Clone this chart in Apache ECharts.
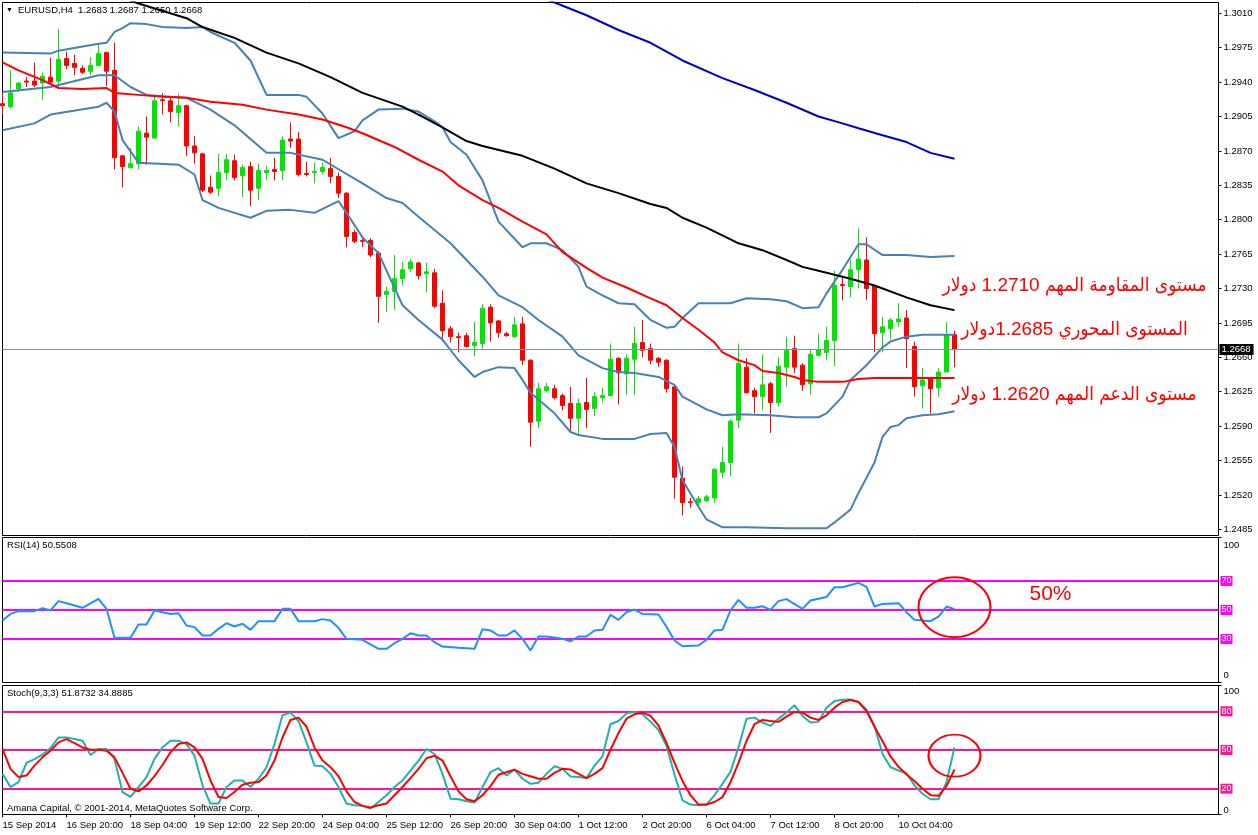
<!DOCTYPE html>
<html><head><meta charset="utf-8">
<script src="https://cdn.jsdelivr.net/npm/echarts@6/dist/echarts.min.js"></script>
<style>html,body{margin:0;padding:0;background:#fff}#c{width:1258px;height:835px}</style>
</head><body><div id="c"></div><script>
// ---------------- data ----------------
const symbolName = 'EURUSD,H4';
const timeLabels = ['15 Sep 2014','16 Sep 20:00','18 Sep 04:00','19 Sep 12:00','22 Sep 20:00','24 Sep 04:00','25 Sep 12:00','26 Sep 20:00','30 Sep 04:00','1 Oct 12:00','2 Oct 20:00','6 Oct 04:00','7 Oct 12:00','8 Oct 20:00','10 Oct 04:00'];
const priceTicks = [1.2485,1.2520,1.2555,1.2590,1.2625,1.2660,1.2695,1.2730,1.2765,1.2800,1.2835,1.2870,1.2905,1.2940,1.2975,1.3010];
const rsiLevels = [70,50,30];
const stochLevels = [80,50,20];

const openP = [1.2918,1.2915,1.2933,1.2941,1.2941,1.2939,1.2945,1.2941,1.2964,1.2959,
1.2954,1.2951,1.2957,1.2970,1.2952,1.2865,1.2853,1.2857,1.2888,1.2883,
1.2922,1.2921,1.2909,1.2916,1.2875,1.2867,1.2833,1.2832,1.2848,1.2860,
1.2845,1.2854,1.2832,1.2848,1.2851,1.2850,1.2882,1.2882,1.2847,1.2848,
1.2849,1.2852,1.2844,1.2827,1.2787,1.2779,1.2779,1.2766,1.2724,1.2727,
1.2740,1.2750,1.2756,1.2745,1.2746,1.2715,1.2689,1.2681,1.2682,1.2672,
1.2674,1.2711,1.2697,1.2684,1.2681,1.2694,1.2657,1.2595,1.2626,1.2628,
1.2621,1.2613,1.2598,1.2614,1.2608,1.2619,1.2621,1.2659,1.2643,1.2658,
1.2675,1.2669,1.2659,1.2657,1.2630,1.2537,1.2513,1.2512,1.2514,1.2517,
1.2543,1.2553,1.2596,1.2650,1.2626,1.2620,1.2633,1.2614,1.2650,1.2669,
1.2652,1.2633,1.2662,1.2665,1.2677,1.2734,1.2732,1.2749,1.2759,1.2733,
1.2685,1.2689,1.2696,1.2700,1.2671,1.2631,1.2639,1.2629,1.2645,1.2683];
const highP = [1.2929,1.2952,1.2940,1.2945,1.2960,1.2950,1.2965,1.2994,1.2971,1.2968,
1.2957,1.2965,1.2979,1.2971,1.2980,1.2866,1.2873,1.2895,1.2905,1.2925,
1.2929,1.2925,1.2928,1.2917,1.2885,1.2868,1.2845,1.2867,1.2867,1.2866,
1.2856,1.2859,1.2857,1.2855,1.2863,1.2885,1.2899,1.2889,1.2859,1.2858,
1.2858,1.2863,1.2848,1.2828,1.2790,1.2781,1.2781,1.2768,1.2732,1.2764,
1.2757,1.2760,1.2757,1.2756,1.2750,1.2728,1.2692,1.2685,1.2685,1.2696,
1.2714,1.2714,1.2698,1.2686,1.2701,1.2701,1.2658,1.2634,1.2634,1.2632,
1.2623,1.2630,1.2618,1.2639,1.2625,1.2629,1.2674,1.2660,1.2663,1.2691,
1.2698,1.2674,1.2660,1.2658,1.2631,1.2549,1.2517,1.2519,1.2520,1.2547,
1.2569,1.2597,1.2674,1.2659,1.2629,1.2663,1.2635,1.2660,1.2681,1.2682,
1.2654,1.2668,1.2684,1.2691,1.2748,1.2742,1.2759,1.2791,1.2782,1.2734,
1.2701,1.2700,1.2715,1.2708,1.2676,1.2649,1.2640,1.2649,1.2696,1.2687];
const lowP = [1.2907,1.2913,1.2930,1.2935,1.2935,1.2922,1.2939,1.2933,1.2953,1.2947,
1.2948,1.2947,1.2956,1.2936,1.2851,1.2833,1.2852,1.2851,1.2856,1.2883,
1.2907,1.2899,1.2895,1.2865,1.2857,1.2828,1.2826,1.2824,1.2840,1.2840,
1.2823,1.2814,1.2820,1.2840,1.2840,1.2840,1.2873,1.2844,1.2844,1.2837,
1.2846,1.2837,1.2822,1.2772,1.2776,1.2772,1.2762,1.2695,1.2706,1.2708,
1.2733,1.2747,1.2739,1.2726,1.2710,1.2676,1.2675,1.2665,1.2670,1.2661,
1.2668,1.2676,1.2680,1.2681,1.2680,1.2652,1.2569,1.2588,1.2624,1.2617,
1.2606,1.2584,1.2581,1.2588,1.2600,1.2614,1.2620,1.2612,1.2622,1.2622,
1.2660,1.2653,1.2650,1.2624,1.2516,1.2499,1.2507,1.2508,1.2513,1.2512,
1.2537,1.2539,1.2588,1.2623,1.2603,1.2606,1.2583,1.2610,1.2630,1.2644,
1.2626,1.2622,1.2661,1.2657,1.2651,1.2718,1.2721,1.2730,1.2718,1.2665,
1.2665,1.2678,1.2691,1.2649,1.2620,1.2608,1.2603,1.2620,1.2645,1.2650];
const closeP = [1.2916,1.2929,1.2939,1.2940,1.2937,1.2946,1.2940,1.2963,1.2957,1.2955,
1.2950,1.2957,1.2969,1.2951,1.2863,1.2854,1.2857,1.2890,1.2884,1.2921,
1.2921,1.2910,1.2916,1.2875,1.2868,1.2830,1.2828,1.2848,1.2861,1.2843,
1.2853,1.2830,1.2850,1.2850,1.2849,1.2881,1.2880,1.2846,1.2846,1.2849,
1.2853,1.2844,1.2827,1.2783,1.2778,1.2778,1.2764,1.2722,1.2727,1.2740,
1.2749,1.2757,1.2743,1.2747,1.2712,1.2687,1.2681,1.2680,1.2671,1.2675,
1.2710,1.2695,1.2685,1.2682,1.2693,1.2657,1.2594,1.2628,1.2630,1.2619,
1.2611,1.2598,1.2613,1.2607,1.2620,1.2621,1.2658,1.2644,1.2659,1.2674,
1.2667,1.2657,1.2655,1.2628,1.2538,1.2512,1.2512,1.2516,1.2518,1.2546,
1.2553,1.2595,1.2654,1.2624,1.2620,1.2632,1.2614,1.2651,1.2667,1.2650,
1.2632,1.2663,1.2668,1.2677,1.2733,1.2733,1.2749,1.2760,1.2730,1.2684,
1.2691,1.2698,1.2699,1.2679,1.2630,1.2637,1.2628,1.2645,1.2683,1.2668];

// indicator lines: [bar index, value]
const bbUpper = [[0,1.2970],[6,1.2969],[7,1.2972],[12,1.2979],[13,1.2980],[14,1.2991],[15,1.2995],[16,1.3000],[18,1.2999],[20,1.2996],[23,1.2995],[25,1.2996],[26,1.2991],[29,1.2980],[31,1.2962],[33,1.2927],[37,1.2927],[38,1.2925],[40,1.2908],[42,1.2883],[44,1.2890],[45,1.2901],[47,1.2912],[50,1.2913],[52,1.2910],[54,1.2900],[55,1.2894],[56,1.2879],[58,1.2866],[60,1.2840],[62,1.2798],[65,1.2772],[66,1.2776],[68,1.2776],[70,1.2769],[72,1.2752],[73,1.2732],[75,1.2723],[77,1.2715],[79,1.2714],[81,1.2698],[83,1.2690],[84,1.2691],[85,1.2700],[87,1.2715],[91,1.2715],[93,1.2720],[96,1.2719],[98,1.2717],[100,1.2710],[102,1.2711],[103,1.2725],[105,1.2749],[106,1.2762],[107,1.2775],[108,1.2775],[110,1.2764],[113,1.2764],[116,1.2762],[119,1.2763]];
const bbMiddle = [[0,1.2930],[6,1.2935],[12,1.2947],[14,1.2947],[16,1.2935],[18,1.2927],[21,1.2925],[23,1.2924],[26,1.2912],[29,1.2896],[33,1.2868],[36,1.2868],[40,1.2861],[45,1.2837],[48,1.2822],[50,1.2817],[52,1.2803],[56,1.2776],[60,1.2742],[62,1.2723],[65,1.2711],[67,1.2698],[70,1.2681],[72,1.2662],[75,1.2649],[77,1.2645],[79,1.2644],[82,1.2640],[84,1.2632],[85,1.2620],[88,1.2607],[90,1.2601],[92,1.2602],[96,1.2601],[99,1.2599],[102,1.2599],[103,1.2603],[105,1.2620],[106,1.2637],[108,1.2652],[110,1.2670],[111,1.2676],[113,1.2681],[115,1.2683],[119,1.2683]];
const bbLower = [[0,1.2891],[4,1.2898],[6,1.2907],[12,1.2915],[13,1.2919],[14,1.2910],[15,1.2881],[17,1.2858],[22,1.2856],[24,1.2846],[25,1.2820],[26,1.2816],[27,1.2812],[31,1.2802],[33,1.2809],[36,1.2810],[39,1.2807],[42,1.2819],[43,1.2807],[45,1.2782],[47,1.2766],[50,1.2713],[52,1.2698],[55,1.2678],[57,1.2657],[59,1.2640],[60,1.2645],[62,1.2650],[64,1.2649],[65,1.2637],[66,1.2624],[69,1.2603],[71,1.2584],[72,1.2581],[75,1.2577],[79,1.2577],[81,1.2582],[83,1.2583],[84,1.2569],[85,1.2535],[87,1.2508],[88,1.2495],[90,1.2487],[93,1.2487],[98,1.2486],[103,1.2486],[104,1.2492],[106,1.2505],[107,1.2522],[109,1.2553],[110,1.2579],[111,1.2589],[112,1.2591],[113,1.2598],[115,1.2601],[117,1.2602],[119,1.2605]];
const maRed = [[0,1.2960],[2,1.2952],[5,1.2942],[7,1.2934],[10,1.2933],[13,1.2934],[14,1.2929],[17,1.2927],[20,1.2925],[23,1.2924],[26,1.2920],[30,1.2917],[33,1.2912],[37,1.2907],[40,1.2902],[43,1.2894],[45,1.2888],[49,1.2874],[52,1.2861],[55,1.2849],[57,1.2835],[60,1.2820],[62,1.2812],[65,1.2798],[68,1.2785],[70,1.2767],[73,1.2751],[75,1.2741],[78,1.2731],[81,1.2720],[83,1.2713],[85,1.2700],[87,1.2688],[89,1.2675],[90,1.2665],[92,1.2657],[94,1.2652],[95,1.2646],[97,1.2644],[99,1.2640],[100,1.2637],[102,1.2635],[105,1.2635],[107,1.2638],[109,1.2639],[113,1.2639],[119,1.2639]];
const maBlack = [[14,1.3029],[17,1.3020],[23,1.3005],[25,1.2996],[29,1.2985],[33,1.2970],[37,1.2959],[41,1.2945],[45,1.2929],[50,1.2915],[52,1.2907],[55,1.2894],[58,1.2880],[60,1.2875],[65,1.2865],[69,1.2852],[73,1.2837],[77,1.2827],[81,1.2816],[83,1.2812],[85,1.2802],[88,1.2792],[91,1.2780],[92,1.2776],[95,1.2769],[98,1.2759],[100,1.2752],[102,1.2748],[105,1.2742],[106,1.2740],[109,1.2733],[113,1.2721],[116,1.2713],[119,1.2708]];
const maBlue = [[67,1.3027],[69,1.3021],[73,1.3008],[77,1.2993],[81,1.2980],[85,1.2962],[90,1.2944],[94,1.2932],[98,1.2919],[102,1.2905],[105,1.2898],[107,1.2893],[110,1.2886],[113,1.2879],[116,1.2868],[119,1.2862]];

const rsi = [[0,42.8],[1,47.3],[2,49.2],[4,49.2],[5,51.3],[6,49.7],[7,56.1],[8,54.7],[10,51.5],[12,57.7],[13,50.8],[14,30.8],[16,30.8],[17,40.0],[18,40.0],[19,49.7],[21,47.3],[22,47.8],[23,39.3],[24,38.2],[25,32.4],[26,32.4],[27,37.0],[28,40.9],[29,38.6],[30,40.5],[31,36.3],[32,42.3],[34,42.3],[35,50.8],[36,50.8],[37,42.3],[39,42.3],[40,43.7],[41,42.8],[42,37.7],[43,30.1],[45,29.4],[47,23.2],[48,23.2],[49,27.1],[50,30.1],[51,34.0],[52,32.4],[53,32.4],[54,27.8],[55,24.8],[57,23.9],[59,23.2],[60,36.8],[61,35.9],[62,32.4],[63,32.4],[64,35.9],[65,30.1],[66,22.1],[67,31.7],[68,31.7],[70,30.1],[71,28.5],[72,31.7],[73,31.7],[74,35.9],[75,36.3],[76,46.7],[77,43.2],[78,48.5],[79,50.3],[80,47.3],[82,46.9],[83,38.5],[84,29.0],[85,25.0],[87,25.5],[88,29.5],[89,35.9],[90,36.3],[91,49.7],[92,57.0],[93,51.5],[94,51.5],[95,52.6],[96,50.1],[97,56.1],[98,57.5],[100,50.8],[101,56.6],[103,58.9],[104,65.7],[105,65.7],[107,68.7],[108,66.0],[109,52.4],[110,54.2],[112,54.7],[113,48.5],[114,43.2],[116,42.3],[117,45.5],[118,52.4],[119,50.5508]];

const stochK = [31.5,21.3,25.1,40.0,43.0,46.5,51.5,59.7,59.7,58.5,
57.2,46.1,50.8,50.8,43.1,17.4,13.6,21.3,29.0,43.1,
52.0,57.2,57.2,54.6,45.6,22.6,8.5,8.5,21.3,26.4,
26.4,21.3,27.7,36.6,54.6,76.9,79.0,72.5,55.9,37.9,
37.4,31.5,21.3,8.5,7.2,6.7,4.6,9.7,14.9,21.3,
26.4,34.1,41.8,50.8,46.9,31.5,12.3,11.8,10.2,9.2,
21.3,32.8,35.9,30.2,34.8,27.7,23.8,24.6,31.5,37.4,
35.4,29.5,29.0,28.2,37.9,45.1,70.0,72.5,78.4,79.5,
77.7,72.0,65.5,53.3,31.0,11.0,7.7,7.2,7.7,14.9,
23.8,33.0,52.0,74.3,75.1,71.3,68.7,74.3,79.0,84.6,
76.4,71.3,71.8,82.8,87.9,89.0,89.2,87.2,81.5,68.7,
46.9,36.6,34.1,32.0,22.6,16.1,11.8,11.8,25.1,51.8732];
const stochD = [50.8,35.4,29.0,30.2,37.9,44.3,49.5,55.9,58.4,55.4,
52.0,50.2,50.2,49.5,44.3,32.3,20.0,17.9,22.5,29.7,
38.4,48.2,54.6,55.9,52.0,43.1,26.4,13.6,12.8,17.4,
23.1,24.6,25.1,30.2,41.8,59.7,73.3,75.1,68.2,52.0,
41.8,36.7,29.7,17.9,9.7,6.7,5.4,7.2,8.5,14.9,
21.3,28.2,35.4,43.6,45.6,41.8,29.7,17.9,11.8,10.2,
14.9,22.0,30.8,32.8,34.8,31.5,29.7,27.7,27.7,32.3,
35.4,34.9,31.5,28.2,31.5,35.9,50.2,63.1,74.3,77.7,
79.0,76.5,69.0,55.5,40.0,26.0,15.0,7.7,7.7,9.7,
13.5,25.0,40.0,57.0,70.0,73.3,72.5,71.8,75.9,79.5,
79.0,75.1,73.3,76.9,82.8,87.2,88.7,87.2,80.2,68.0,
57.0,45.0,37.0,31.0,26.0,20.0,15.0,14.5,22.0,34.8885];

// ---------------- categories (H4 bars, weekends skipped) ----------------
const cats = [];
(function () {
  let t = Date.UTC(2014, 8, 15, 12);
  while (cats.length < 153) {
    const d = new Date(t);
    const wd = d.getUTCDay();
    if (wd !== 0 && wd !== 6) cats.push(d.toISOString().slice(0, 16).replace('T', ' '));
    t += 4 * 3600 * 1000;
  }
})();

const N = openP.length;
const candleData = openP.map((o, i) => [o, closeP[i], lowP[i], highP[i]]);
const F = '"Liberation Sans", Arial, sans-serif';
const AF = 'Arial, "DejaVu Sans Condensed", "DejaVu Sans", sans-serif';
const tickFn = (i) => i % 8 === 0 && i < N;

const chart = echarts.init(document.getElementById('c'), null, { renderer: 'canvas', devicePixelRatio: 1 });

const gridBase = { left: 2.5, width: 1216, show: true, borderColor: '#000', borderWidth: 1, backgroundColor: '#fff', outerBoundsMode: 'none', containLabel: false };

function xAx(g) {
  return {
    type: 'category', gridIndex: g, data: cats, boundaryGap: false,
    axisLine: { show: false }, splitLine: { show: false },
    axisTick: g === 2 ? { show: true, interval: tickFn, length: 3, lineStyle: { color: '#000', width: 1 } } : { show: false },
    axisLabel: g === 2 ? { show: true, interval: tickFn, formatter: (v, i) => timeLabels[i / 8] || '', align: 'left', margin: 6, color: '#000', fontSize: 9.5, fontFamily: F } : { show: false }
  };
}
function oscY(g, padTop, padBot) {
  return {
    type: 'value', gridIndex: g, position: 'right', min: 0, max: 100,
    splitLine: { show: false }, axisLine: { show: false },
    axisTick: { show: true, customValues: [0, 100], length: 3, lineStyle: { color: '#000' } },
    axisLabel: {
      customValues: [0, 100], margin: 5, color: '#000', fontSize: 9.5, fontFamily: F,
      formatter: (v) => (v === 100 ? '{t|100}' : '{b|0}'),
      rich: { t: { padding: [padTop, 0, 0, 0], fontSize: 9.5, fontFamily: F, color: '#000' }, b: { padding: [0, 0, padBot, 0], fontSize: 9.5, fontFamily: F, color: '#000' } }
    }
  };
}
function levelLabel(bg) {
  return { show: true, position: 'end', distance: 2, formatter: (p) => String(p.value), color: '#fff', backgroundColor: bg, fontSize: 9, fontFamily: F, padding: [1, 1, 0, 1], lineHeight: 9 };
}
function mainLine(data, color) {
  return { type: 'line', xAxisIndex: 0, yAxisIndex: 0, data, showSymbol: false, symbol: 'none', silent: true, clip: true, z: 3,
    lineStyle: { color, width: 2 }, itemStyle: { color } };
}

const last = N - 1;
const option = {
  animation: false,
  backgroundColor: '#fff',
  title: [
    { text: '{t|▼}' + symbolName + '  ' + [openP[last], highP[last], lowP[last], closeP[last]].map(v => v.toFixed(4)).join(' '),
      left: 6, top: 5, padding: 0,
      textStyle: { fontSize: 9.5, fontWeight: 'normal', color: '#000', fontFamily: F, rich: { t: { fontSize: 7, padding: [0, 5, 0, 0], color: '#000' } } } },
    { text: 'RSI(14) ' + rsi[rsi.length - 1][1].toFixed(4), left: 7, top: 540.5, padding: 0, textStyle: { fontSize: 9.5, fontWeight: 'normal', color: '#000', fontFamily: F } },
    { text: 'Stoch(9,3,3) ' + stochK[last].toFixed(4) + ' ' + stochD[last].toFixed(4), left: 7, top: 688.5, padding: 0, textStyle: { fontSize: 9.5, fontWeight: 'normal', color: '#000', fontFamily: F } },
    { text: 'Amana Capital, © 2001-2014, MetaQuotes Software Corp.', left: 7, top: 803.5, padding: 0, textStyle: { fontSize: 9.5, fontWeight: 'normal', color: '#000', fontFamily: F } }
  ],
  grid: [
    Object.assign({}, gridBase, { top: 2.5, height: 533 }),
    Object.assign({}, gridBase, { top: 537.5, height: 145 }),
    Object.assign({}, gridBase, { top: 685.5, height: 129 })
  ],
  xAxis: [xAx(0), xAx(1), xAx(2)],
  yAxis: [
    { type: 'value', gridIndex: 0, position: 'right', min: 1.247869, max: 1.302099,
      splitLine: { show: false }, axisLine: { show: false },
      axisTick: { show: true, customValues: priceTicks, length: 3, lineStyle: { color: '#000' } },
      axisLabel: { customValues: priceTicks, formatter: (v) => v.toFixed(4), margin: 5, color: '#000', fontSize: 9.5, fontFamily: F } },
    oscY(1, 15, 14),
    oscY(2, 12, 9)
  ],
  series: [
    { type: 'candlestick', xAxisIndex: 0, yAxisIndex: 0, data: candleData, barWidth: 4, silent: true, z: 2,
      itemStyle: { color: '#00e600', color0: '#ff0000', borderColor: '#00e600', borderColor0: '#ff0000', borderWidth: 1 },
      markLine: { silent: true, symbol: 'none', animation: false, precision: 4,
        lineStyle: { color: '#7d94ad', width: 1, type: 'solid' },
        label: { show: true, position: 'end', distance: 1, formatter: (p) => Number(p.value).toFixed(4), color: '#fff', backgroundColor: '#000', padding: [1, 3, 0, 2], fontSize: 9.5, fontFamily: F },
        data: [{ yAxis: closeP[last] }] } },
    mainLine(bbUpper, '#4682b4'),
    mainLine(bbMiddle, '#4682b4'),
    mainLine(bbLower, '#4682b4'),
    Object.assign(mainLine(maRed, '#ff0000'), {
      markPoint: { silent: true, animation: false, symbol: 'circle', symbolSize: 0,
        label: { show: true, position: 'inside', color: '#ff0000', fontSize: 19, fontFamily: AF, textBorderWidth: 0, formatter: (p) => p.name },
        itemStyle: { color: 'rgba(0,0,0,0)' },
        data: [
          { name: 'مستوى المقاومة المهم 1.2710 دولار', coord: [134, 1.2733] },
          { name: 'المستوى المحوري 1.2685دولار', coord: [134, 1.2688] },
          { name: 'مستوى الدعم المهم 1.2620 دولار', coord: [134, 1.2622] }
        ] } }),
    mainLine(maBlack, '#000000'),
    mainLine(maBlue, '#0000cd'),
    { type: 'line', xAxisIndex: 1, yAxisIndex: 1, data: rsi, showSymbol: false, symbol: 'none', silent: true, z: 3,
      lineStyle: { color: '#1e90ff', width: 2 }, itemStyle: { color: '#1e90ff' },
      markLine: { silent: true, symbol: 'none', animation: false, z: 2, precision: 0,
        lineStyle: { color: '#ff00ff', width: 2, type: 'solid' }, label: levelLabel('#ff00ff'),
        data: rsiLevels.map(v => ({ yAxis: v })) },
      markPoint: { silent: true, animation: false,
        data: [
          { coord: [118.65, 51.9], symbol: 'circle', symbolSize: [72, 60], itemStyle: { color: 'rgba(0,0,0,0)', borderColor: '#ff0000', borderWidth: 2 }, label: { show: false } },
          { coord: [131.25, 60.9], name: '50%', symbol: 'circle', symbolSize: 0, itemStyle: { color: 'rgba(0,0,0,0)' },
            label: { show: true, position: 'inside', formatter: '50%', color: '#ff0000', fontSize: 21, fontFamily: AF, textBorderWidth: 0 } }
        ] } },
    { type: 'line', xAxisIndex: 2, yAxisIndex: 2, data: stochK, showSymbol: false, symbol: 'none', silent: true, z: 3,
      lineStyle: { color: '#20b2aa', width: 2 }, itemStyle: { color: '#20b2aa' },
      markLine: { silent: true, symbol: 'none', animation: false, z: 2, precision: 0,
        lineStyle: { color: '#ff1493', width: 2, type: 'solid' }, label: levelLabel('#ff1493'),
        data: stochLevels.map(v => ({ yAxis: v })) },
      markPoint: { silent: true, animation: false,
        data: [
          { coord: [119.2, 45.6], symbol: 'circle', symbolSize: [52, 42], itemStyle: { color: 'rgba(0,0,0,0)', borderColor: '#ff0000', borderWidth: 2 }, label: { show: false } }
        ] } },
    { type: 'line', xAxisIndex: 2, yAxisIndex: 2, data: stochD, showSymbol: false, symbol: 'none', silent: true, z: 4,
      lineStyle: { color: '#ff0000', width: 2 }, itemStyle: { color: '#ff0000' } }
  ]
};
chart.setOption(option);
</script></body></html>
